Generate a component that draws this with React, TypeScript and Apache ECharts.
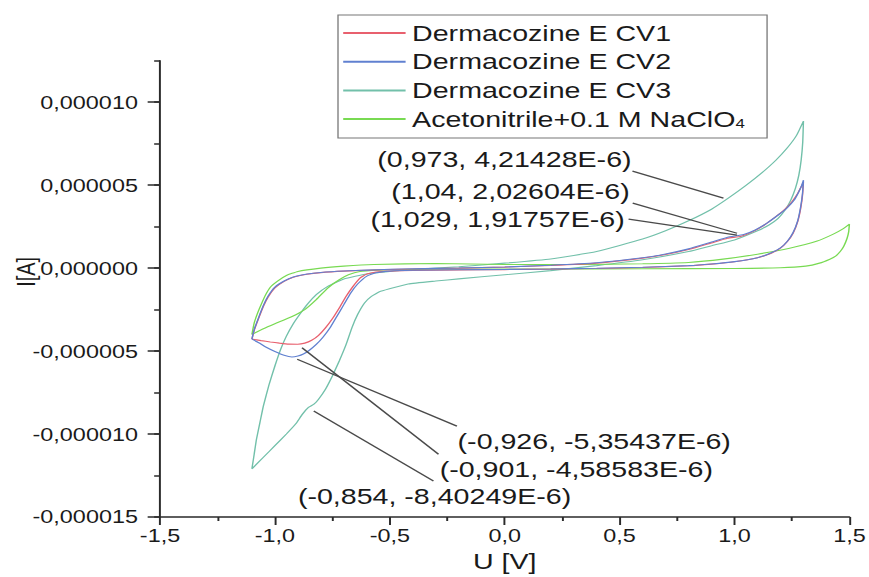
import React, { useEffect, useRef } from 'react';
import * as echarts from 'echarts';

// horizontal stretch of the original picture
const S = 1.3;
const W = 869;
const H = 577;
const FONT = '"Liberation Sans", Arial, Helvetica, sans-serif';

const NAME_CV1 = 'Dermacozine E CV1';
const NAME_CV2 = 'Dermacozine E CV2';
const NAME_CV3 = 'Dermacozine E CV3';
const NAME_ACN = 'Acetonitrile+0.1 M NaClO4';
const legendNames = [NAME_CV1, NAME_CV2, NAME_CV3, NAME_ACN];

// [U (V), I (µA)] in scan order
const cv1Up = [[-1.1,-4.28],[-1.09,-3.75],[-1.07,-3.0],[-1.05,-2.3],[-1.03,-1.75],[-1.0,-1.2],[-0.96,-0.8],[-0.92,-0.55],[-0.86,-0.37],[-0.8,-0.27],[-0.7,-0.18],[-0.6,-0.13],[-0.5,-0.08],[-0.4,-0.05],[-0.2,0.0],[0.0,0.06],[0.2,0.16],[0.4,0.3],[0.6,0.6],[0.7,0.82],[0.8,1.12],[0.9,1.52],[0.97,1.8],[1.029,1.92],[1.08,2.2],[1.13,2.6],[1.18,3.1],[1.22,3.55],[1.25,4.0],[1.275,4.5],[1.29,4.9],[1.3,5.2]];
const cv1Down = [[1.3,5.2],[1.296,4.4],[1.288,3.6],[1.275,2.8],[1.255,2.1],[1.23,1.6],[1.2,1.2],[1.16,0.9],[1.1,0.62],[1.0,0.38],[0.9,0.24],[0.8,0.14],[0.6,0.04],[0.4,-0.02],[0.2,-0.06],[0.0,-0.09],[-0.2,-0.11],[-0.4,-0.14],[-0.5,-0.18],[-0.56,-0.24],[-0.6,-0.36],[-0.63,-0.6],[-0.66,-1.1],[-0.69,-1.7],[-0.72,-2.4],[-0.75,-3.05],[-0.78,-3.6],[-0.81,-4.05],[-0.84,-4.35],[-0.87,-4.52],[-0.901,-4.586],[-0.94,-4.58],[-0.98,-4.52],[-1.02,-4.45],[-1.06,-4.37],[-1.1,-4.28]];

const cv2Up = [[-1.1,-4.28],[-1.09,-3.7],[-1.07,-2.95],[-1.05,-2.25],[-1.03,-1.7],[-1.0,-1.15],[-0.96,-0.78],[-0.92,-0.54],[-0.86,-0.36],[-0.8,-0.26],[-0.7,-0.17],[-0.6,-0.12],[-0.5,-0.07],[-0.4,-0.04],[-0.2,0.01],[0.0,0.07],[0.2,0.17],[0.4,0.32],[0.6,0.62],[0.7,0.85],[0.8,1.16],[0.9,1.57],[0.97,1.86],[1.04,2.026],[1.09,2.3],[1.14,2.7],[1.19,3.2],[1.23,3.65],[1.26,4.1],[1.28,4.6],[1.293,5.0],[1.3,5.3]];
const cv2Down = [[1.3,5.3],[1.296,4.5],[1.288,3.7],[1.275,2.85],[1.255,2.15],[1.23,1.62],[1.2,1.22],[1.16,0.92],[1.1,0.63],[1.0,0.39],[0.9,0.25],[0.8,0.15],[0.6,0.05],[0.4,-0.01],[0.2,-0.05],[0.0,-0.08],[-0.2,-0.1],[-0.4,-0.13],[-0.5,-0.18],[-0.56,-0.28],[-0.6,-0.48],[-0.64,-0.96],[-0.67,-1.5],[-0.7,-2.2],[-0.73,-2.9],[-0.76,-3.6],[-0.79,-4.15],[-0.82,-4.6],[-0.85,-4.95],[-0.876,-5.18],[-0.9,-5.3],[-0.926,-5.354],[-0.96,-5.25],[-1.0,-5.02],[-1.04,-4.75],[-1.07,-4.5],[-1.1,-4.28]];

const cv3Up = [[-1.1,-12.1],[-1.09,-11.2],[-1.08,-10.3],[-1.065,-9.3],[-1.05,-8.3],[-1.025,-7.0],[-1.0,-5.9],[-0.975,-4.9],[-0.95,-4.1],[-0.92,-3.35],[-0.89,-2.75],[-0.86,-2.2],[-0.82,-1.6],[-0.77,-1.1],[-0.7,-0.65],[-0.6,-0.35],[-0.5,-0.2],[-0.4,-0.08],[-0.2,0.08],[0.0,0.3],[0.2,0.55],[0.4,1.0],[0.6,1.75],[0.7,2.25],[0.8,2.85],[0.9,3.55],[0.973,4.214],[1.05,4.98],[1.12,5.75],[1.18,6.5],[1.23,7.25],[1.27,8.0],[1.3,8.86]];
const cv3Down = [[1.3,8.86],[1.297,7.6],[1.29,6.5],[1.28,5.6],[1.265,4.8],[1.245,4.1],[1.22,3.5],[1.19,3.0],[1.15,2.6],[1.1,2.25],[1.0,1.7],[0.9,1.35],[0.8,1.0],[0.6,0.5],[0.4,0.15],[0.2,-0.15],[0.0,-0.4],[-0.2,-0.65],[-0.3,-0.78],[-0.42,-0.96],[-0.54,-1.4],[-0.58,-1.7],[-0.61,-2.1],[-0.64,-2.8],[-0.665,-3.6],[-0.69,-4.6],[-0.72,-5.6],[-0.75,-6.5],[-0.78,-7.3],[-0.81,-7.9],[-0.83,-8.2],[-0.854,-8.4],[-0.88,-8.8],[-0.91,-9.4],[-0.95,-10.0],[-1.0,-10.7],[-1.05,-11.4],[-1.1,-12.1]];

const acnUp = [[-1.1,-4.0],[-1.09,-3.3],[-1.075,-2.7],[-1.06,-2.2],[-1.04,-1.6],[-1.02,-1.15],[-0.99,-0.8],[-0.95,-0.45],[-0.9,-0.2],[-0.8,0.0],[-0.7,0.12],[-0.57,0.22],[-0.3,0.28],[0.0,0.22],[0.3,0.22],[0.6,0.26],[0.8,0.34],[0.95,0.54],[1.1,0.84],[1.24,1.2],[1.36,1.63],[1.43,2.05],[1.47,2.35],[1.5,2.65]];
const acnDown = [[1.5,2.65],[1.497,2.2],[1.49,1.8],[1.475,1.3],[1.46,1.0],[1.44,0.72],[1.415,0.54],[1.37,0.3],[1.31,0.12],[1.2,0.02],[1.0,-0.02],[0.6,-0.04],[0.2,-0.05],[-0.2,-0.06],[-0.45,-0.08],[-0.55,-0.12],[-0.63,-0.2],[-0.68,-0.4],[-0.72,-0.7],[-0.77,-1.2],[-0.82,-1.9],[-0.87,-2.5],[-0.93,-2.95],[-1.0,-3.35],[-1.05,-3.65],[-1.1,-4.0]];

// annotations (data units: V, µA)
const annotTexts = ['(0,973, 4,21428E-6)', '(1,04, 2,02604E-6)', '(1,029, 1,91757E-6)', '(-0,926, -5,35437E-6)', '(-0,901, -4,58583E-6)', '(-0,854, -8,40249E-6)'];
const annotTextAt = [[0.552, 6.57], [0.544, 4.64], [0.522, 2.95], [-0.205, -10.42], [-0.283, -12.11], [-0.9, -13.73]];
const annotSide = ['left', 'left', 'left', 'right', 'right', 'right'];
const leaderFrom = [[0.556, 5.84], [0.557, 3.92], [0.539, 2.95], [-0.208, -9.52], [-0.288, -11.22], [-0.31, -12.83]];
const leaderTo = [[0.952, 4.22], [1.011, 2.1], [1.011, 1.99], [-0.903, -5.49], [-0.882, -4.8], [-0.831, -8.61]];

const xTicks = { min: -1.5, max: 1.5, interval: 0.5 };
const yTicks = { min: -15, max: 12.5, minor: 2.5, major: [-15, -10, -5, 0, 5, 10] };

const COLORS: Record<string, string> = {
  [NAME_CV1]: '#e8606e',
  [NAME_CV2]: '#6080d0',
  [NAME_CV3]: '#72c0aa',
  [NAME_ACN]: '#78da52',
};

export default function App() {
  const ref = useRef<HTMLDivElement>(null);
  useEffect(() => {
    const chart = echarts.init(ref.current!, null, { renderer: 'svg' });
    const line = (name: string, data: number[][]) => ({
      type: 'line',
      name,
      data,
      symbol: 'none',
      showSymbol: false,
      smooth: 0.15,
      silent: true,
      lineStyle: { color: COLORS[name], width: 1.1 },
      itemStyle: { color: COLORS[name] },
      emphasis: { disabled: true },
    });
    const axisColor = '#2a2a2a';
    const textColor = '#1a1a1a';
    chart.setOption({
      animation: false,
      textStyle: { fontFamily: FONT },
      grid: { left: 160 / S, right: (W - 850) / S, top: 60.7, bottom: 60, outerBoundsMode: 'none', containLabel: false },
      legend: {
        data: legendNames,
        orient: 'vertical',
        left: 338 / S,
        top: 15,
        itemWidth: 48,
        itemHeight: 14,
        itemGap: 6.7,
        padding: [7, 17, 8, 3],
        borderColor: '#777',
        borderWidth: 1,
        backgroundColor: '#fff',
        selectedMode: false,
        itemStyle: { opacity: 0 },
        textStyle: {
          fontSize: 22,
          lineHeight: 22,
          color: textColor,
          fontFamily: FONT,
          rich: { sub: { fontSize: 13, lineHeight: 13, verticalAlign: 'bottom', color: textColor, fontFamily: FONT } },
        },
        formatter: (n: string) => (n === NAME_ACN ? 'Acetonitrile+0.1 M NaClO{sub|4}' : n),
      },
      xAxis: {
        type: 'value',
        min: xTicks.min,
        max: xTicks.max,
        interval: xTicks.interval,
        name: 'U [V]',
        nameLocation: 'middle',
        nameGap: 33,
        nameMoveOverlap: false,
        nameTextStyle: { fontSize: 22, color: textColor, fontFamily: FONT },
        axisLine: { show: true, onZero: false, lineStyle: { color: axisColor, width: 1.5 } },
        axisTick: { show: true, inside: false, length: 8, lineStyle: { color: axisColor, width: 1.5 } },
        minorTick: { show: true, splitNumber: 2, length: 4, lineStyle: { color: axisColor, width: 1.5 } },
        axisLabel: { fontSize: 18, color: textColor, margin: 10, fontFamily: FONT, formatter: (v: number) => v.toFixed(1).replace('.', ',') },
        splitLine: { show: false },
      },
      yAxis: [
        {
          type: 'value',
          position: 'left',
          min: yTicks.min,
          max: yTicks.max,
          interval: yTicks.minor,
          name: 'I[A]',
          nameLocation: 'middle',
          nameGap: 93,
          nameRotate: 90,
          nameMoveOverlap: false,
          nameTextStyle: { fontSize: 20, color: textColor, fontFamily: FONT, padding: [0, 0, 0, 34] },
          axisLine: { show: true, onZero: false, lineStyle: { color: axisColor, width: 1.5 } },
          axisTick: { show: true, inside: false, length: 4.5, lineStyle: { color: axisColor, width: 1.5 } },
          axisLabel: {
            fontSize: 18,
            color: textColor,
            margin: 17,
            fontFamily: FONT,
            customValues: yTicks.major,
            formatter: (v: number) => (v / 1e6).toFixed(6).replace('.', ','),
          },
          splitLine: { show: false },
        },
        {
          type: 'value',
          position: 'left',
          offset: 0,
          min: yTicks.min,
          max: yTicks.max,
          interval: yTicks.minor,
          axisLine: { show: false, onZero: false },
          axisTick: { show: true, inside: false, length: 9.5, customValues: yTicks.major, lineStyle: { color: axisColor, width: 1.5 } },
          axisLabel: { show: false },
          splitLine: { show: false },
        },
      ],
      series: [
        line(NAME_CV3, [...cv3Up, ...cv3Down.slice(1)]),
        line(NAME_ACN, [...acnUp, ...acnDown.slice(1)]),
        line(NAME_CV1, [...cv1Up, ...cv1Down.slice(1)]),
        line(NAME_CV2, [...cv2Up, ...cv2Down.slice(1)]),
        {
          type: 'scatter',
          name: 'annotations',
          silent: true,
          symbolSize: 0,
          z: 5,
          itemStyle: { opacity: 1 },
          data: annotTexts.map((t, i) => ({
            name: t,
            value: annotTextAt[i],
            label: {
              show: true,
              position: annotSide[i],
              distance: 0,
              formatter: t,
              fontSize: 22,
              color: textColor,
              opacity: 1,
              fontFamily: FONT,
            },
          })),
          markLine: {
            silent: true,
            symbol: ['none', 'none'],
            label: { show: false },
            lineStyle: { color: '#4a4a4a', width: 1.3, type: 'solid', opacity: 1 },
            data: leaderFrom.map((f, i) => [{ coord: f }, { coord: leaderTo[i] }]),
          },
        },
      ],
    });
    return () => chart.dispose();
  }, []);
  return (
    <div style={{ position: 'absolute', left: 0, top: 0, width: W, height: H, overflow: 'hidden', background: '#fff' }}>
      <div ref={ref} style={{ width: W / S, height: H, transform: `scaleX(${S})`, transformOrigin: '0 0' }} />
    </div>
  );
}
